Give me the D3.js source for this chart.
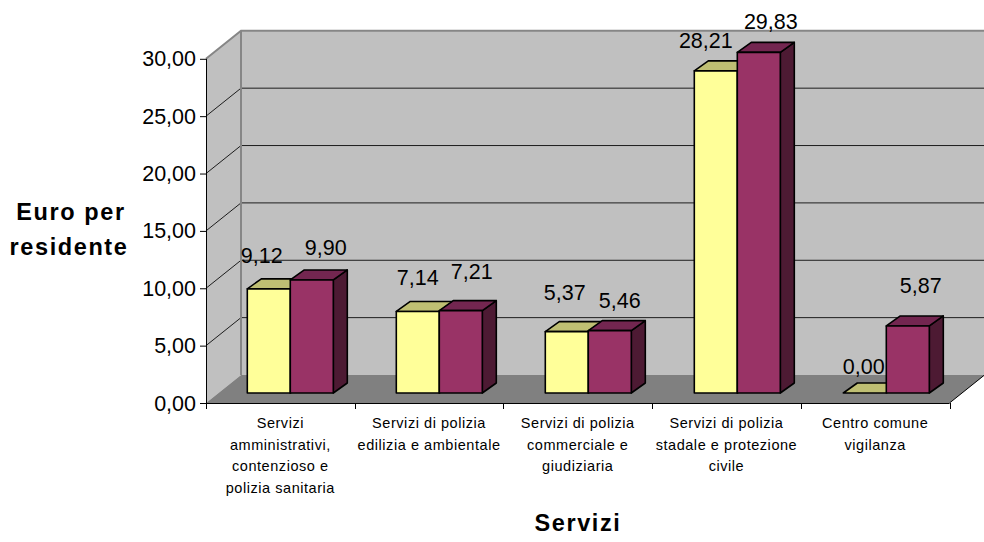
<!DOCTYPE html>
<html><head><meta charset="utf-8">
<script src="https://cdn.jsdelivr.net/npm/d3@7"></script>
<style>html,body{margin:0;padding:0;background:#fff}svg{display:block}text{font-family:"Liberation Sans",Arial,sans-serif;fill:#000}</style>
</head><body><svg id="c" width="984" height="542"></svg>
<script>
const categories=[["Servizi","amministrativi,","contenzioso e","polizia sanitaria"],["Servizi di polizia","edilizia e ambientale"],["Servizi di polizia","commerciale e","giudiziaria"],["Servizi di polizia","stadale e protezione","civile"],["Centro comune","vigilanza"]];
const seriesA=[9.12,7.14,5.37,28.21,0];
const seriesB=[9.90,7.21,5.46,29.83,5.87];
const yTicks=[0,5,10,15,20,25,30];
const fmt=v=>v.toFixed(2).replace(".",",");
const svg=d3.select("#c");
const W0=206,W1=949.5,DX=35,DY=28,dx=14,dy=10,bw=43;
const y=d3.scaleLinear().domain([0,30]).range([403,58.8]);
const barY=d3.scaleLinear().domain([0,30]).range([393,50.4]);
const x=d3.scaleBand().domain(d3.range(categories.length)).range([W0,W1]);
const barX=d3.scaleBand().domain(d3.range(categories.length)).range([247.3,247.3+149*5]);
const poly=(pts,fill,stroke,sw)=>svg.append("polygon").attr("points",pts.map(p=>p.join(",")).join(" ")).attr("fill",fill).attr("stroke",stroke||"none").attr("stroke-width",sw||0).attr("stroke-linejoin","round");
const g="#868686";
// walls
poly([[W0+DX,y(30)-DY],[W1+DX,y(30)-DY],[W1+DX,y(0)-DY],[W0+DX,y(0)-DY]],"#c0c0c0");
poly([[W0,y(30)],[W0+DX,y(30)-DY],[W0+DX,y(0)-DY],[W0,y(0)]],"#c0c0c0");
poly([[W0,y(0)],[W0+DX,y(0)-DY],[W1+DX,y(0)-DY],[W1,y(0)]],"#808080");
// gridlines
yTicks.slice(1,-1).forEach(t=>{
  svg.append("polyline").attr("fill","none").attr("stroke","#000").attr("stroke-width",1).attr("stroke-opacity",.85)
   .attr("points",`${W0},${y(t)} ${W0+DX},${y(t)-DY} ${W1+DX},${y(t)-DY}`);
});
svg.append("path").attr("fill","none").attr("stroke",g).attr("stroke-width",2)
  .attr("d",`M${W0},${y(30)}L${W0+DX},${y(30)-DY}L${W1+DX},${y(30)-DY}M${W0+DX},${y(30)-DY}L${W0+DX},${y(0)-DY}`);
// axes
const ax=svg.append("g").attr("stroke","#000");
ax.append("line").attr("x1",W0+.5).attr("x2",W0+.5).attr("y1",y(30)).attr("y2",y(0));
ax.append("line").attr("x1",W0).attr("x2",W1).attr("y1",y(0)+.5).attr("y2",y(0)+.5);
ax.append("line").attr("x1",W1).attr("x2",W1+DX).attr("y1",y(0)).attr("y2",y(0)-DY);
yTicks.forEach(t=>{
  ax.append("line").attr("x1",W0-6).attr("x2",W0).attr("y1",y(t)+.5).attr("y2",y(t)+.5);
  svg.append("text").attr("x",W0-10).attr("y",y(t)+7.5).attr("text-anchor","end").attr("font-size",21.5).text(fmt(t));
});
d3.range(6).forEach(i=>{const px=Math.round(W0+i*x.bandwidth())+.5;
  ax.append("line").attr("x1",px).attr("x2",px).attr("y1",y(0)).attr("y2",y(0)+6);});
// bars
const bar=(x0,v,front,top,side)=>{
  const b=barY(0), t=barY(v);
  const x1=x0+bw;
  if(v>0){poly([[x1,t],[x1+dx,t-dy],[x1+dx,b-dy],[x1,b]],side,"#000",1.6);}
  poly([[x0,t],[x0+dx,t-dy],[x1+dx,t-dy],[x1,t]],top,"#000",1.6);
  if(v>0)poly([[x0,t],[x1,t],[x1,b],[x0,b]],front,"#000",1.6);
};
const nudgeA=[[-7,-25.4],[0,-26],[-2,-32],[-10,-23],[-1,-19.5]];
const nudgeB=[[14,-24.5],[11,-32],[10,-23],[12,-23],[13,-32.5]];
categories.forEach((c,i)=>{
  const x0=barX(i);
  bar(x0,seriesA[i],"#ffff99","#bfbf73","#7f7f4c");
  bar(x0+bw,seriesB[i],"#993366","#732650","#4d1a33");
  const tx=x(i)+x.bandwidth()/2;
  c.forEach((l,j)=>svg.append("text").attr("x",tx).attr("y",428+j*21.5).attr("text-anchor","middle").attr("font-size",14.5).attr("letter-spacing",.55).text(l));
});
categories.forEach((c,i)=>{
  const x0=barX(i);
  svg.append("text").attr("x",x0+bw/2+nudgeA[i][0]).attr("y",barY(seriesA[i])+nudgeA[i][1]).attr("text-anchor","middle").attr("font-size",21.5).text(fmt(seriesA[i]));
  svg.append("text").attr("x",x0+bw*1.5+nudgeB[i][0]).attr("y",barY(seriesB[i])+nudgeB[i][1]).attr("text-anchor","middle").attr("font-size",21.5).text(fmt(seriesB[i]));
});
const title=(t,px,py)=>svg.append("text").attr("x",px).attr("y",py).attr("text-anchor","middle").attr("font-size",23.5).attr("letter-spacing",1.6).attr("font-weight","bold").text(t);
title("Euro per",71,220);
title("residente",69,255);
title("Servizi",578,531);
</script></body></html>
